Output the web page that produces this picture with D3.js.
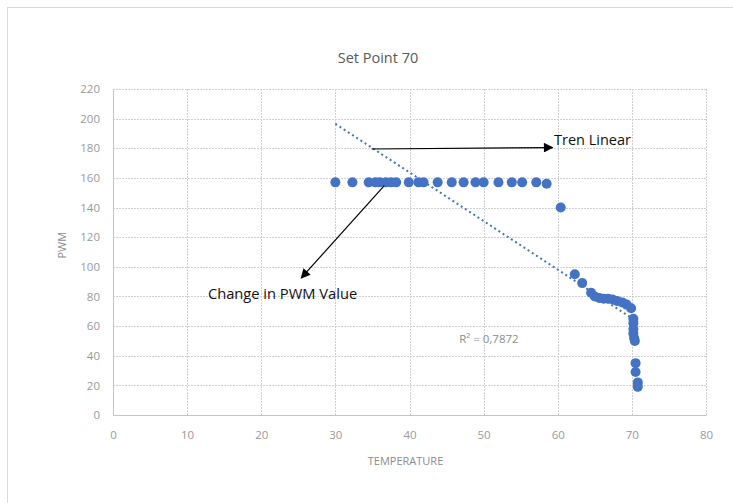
<!DOCTYPE html>
<html>
<head>
<meta charset="utf-8">
<script src="https://cdn.jsdelivr.net/npm/d3@7"></script>
<style>
  body { margin: 0; background: #fff; }
  text { font-family: "Open Sans", sans-serif; }
</style>
</head>
<body>
<div id="chart-area"></div>
<script>
// data
const temperature = [30, 32.3, 34.5, 35.4, 36.0, 36.8, 37.5, 38.2, 39.9, 41.2, 41.9, 43.8, 45.7, 47.3, 48.9,
  50.0, 52.0, 53.8, 55.2, 57.1, 58.5, 60.4, 62.3, 63.3, 64.5, 65.0, 65.6, 66.2, 66.8, 67.4, 68.0, 68.7,
  69.3, 69.9, 70.2, 70.2, 70.2, 70.2, 70.3, 70.4, 70.5, 70.5, 70.8, 70.8];
const pwm = [157, 157, 157, 157, 157, 157, 157, 157, 157, 157, 157, 157, 157, 157, 157,
  157, 157, 157, 157, 157, 156, 140, 95, 89, 82.5, 80, 79, 78.5, 78.5, 78, 77, 76,
  74.5, 72, 65, 62, 58, 55, 52, 50, 35, 29, 22, 19];

// linear trendline ends (as drawn)
const trendX = [30, 70.8];
const trendY = [196.5, 62.7];

const xTicks = [0, 10, 20, 30, 40, 50, 60, 70, 80];
const yTicks = [0, 20, 40, 60, 80, 100, 120, 140, 160, 180, 200, 220];

// annotation arrows in data units: [x1, y1, x2, y2]
const trenArrow = [34.9, 179.5, 59.3, 180.5];
const changeArrow = [36.6, 154.8, 25.4, 92.5];

const MARGIN = { LEFT: 113, RIGHT: 27, TOP: 89, BOTTOM: 88 };
const WIDTH = 733 - MARGIN.LEFT - MARGIN.RIGHT;
const HEIGHT = 503 - MARGIN.TOP - MARGIN.BOTTOM;

const svg = d3.select("#chart-area").append("svg")
  .attr("width", 733)
  .attr("height", 503);

// chart border
svg.append("rect")
  .attr("x", 7.5).attr("y", 7.5)
  .attr("width", 760).attr("height", 520)
  .attr("fill", "none")
  .attr("stroke", "#d9d9d9");

svg.append("defs").append("marker")
  .attr("id", "arrow")
  .attr("viewBox", "0 0 10 10")
  .attr("refX", 9).attr("refY", 5)
  .attr("markerWidth", 9).attr("markerHeight", 8)
  .attr("orient", "auto")
  .append("path")
  .attr("d", "M0,0 L10,5 L0,10 z")
  .attr("fill", "#000");

const g = svg.append("g")
  .attr("transform", `translate(${MARGIN.LEFT}, ${MARGIN.TOP})`);

const x = d3.scaleLinear().domain([0, 80]).range([0, WIDTH]);
const y = d3.scaleLinear().domain([0, 220]).range([HEIGHT, 0]);

// gridlines
g.append("g").selectAll("line")
  .data(yTicks.filter(d => d > 0))
  .join("line")
  .attr("x1", 0).attr("x2", WIDTH)
  .attr("y1", d => Math.round(y(d)) + 0.5).attr("y2", d => Math.round(y(d)) + 0.5)
  .attr("stroke", "#d0d0d0")
  .attr("stroke-dasharray", "2,1");
g.append("g").selectAll("line")
  .data(xTicks.filter(d => d > 0))
  .join("line")
  .attr("x1", d => Math.round(x(d)) + 0.5).attr("x2", d => Math.round(x(d)) + 0.5)
  .attr("y1", 0).attr("y2", HEIGHT)
  .attr("stroke", "#d0d0d0")
  .attr("stroke-dasharray", "2,1");

// axes
const xAxisCall = d3.axisBottom(x).tickValues(xTicks).tickSize(0).tickPadding(16);
const yAxisCall = d3.axisLeft(y).tickValues(yTicks).tickSize(0).tickPadding(13);

const xAxis = g.append("g")
  .attr("transform", `translate(0, ${HEIGHT})`)
  .call(xAxisCall);
const yAxis = g.append("g").call(yAxisCall);

[xAxis, yAxis].forEach(a => {
  a.select(".domain").attr("stroke", "#bfc7bf");
  a.selectAll("text")
    .attr("fill", "#999")
    .attr("font-size", "11.5px")
    .style("font-family", "'Open Sans', sans-serif");
});

// title and axis labels
svg.append("text")
  .attr("x", 378).attr("y", 63)
  .attr("text-anchor", "middle")
  .attr("font-size", "14.5px")
  .attr("fill", "#595959")
  .text("Set Point 70");

g.append("text")
  .attr("x", WIDTH / 2 - 4)
  .attr("y", HEIGHT + 50)
  .attr("text-anchor", "middle")
  .attr("font-size", "11px")
  .attr("fill", "#8c8c8c")
  .text("TEMPERATURE");

g.append("text")
  .attr("transform", "rotate(-90)")
  .attr("x", -(y(120) + 8))
  .attr("y", -47)
  .attr("text-anchor", "middle")
  .attr("font-size", "11px")
  .attr("fill", "#8c8c8c")
  .text("PWM");

// trendline
g.append("line")
  .attr("x1", x(trendX[0])).attr("y1", y(trendY[0]))
  .attr("x2", x(trendX[1])).attr("y2", y(trendY[1]))
  .attr("stroke", "#4472c4")
  .attr("stroke-width", 2)
  .attr("stroke-dasharray", "2,3");

// points
g.append("g").selectAll("circle")
  .data(temperature.map((t, i) => ({ t, p: pwm[i] })))
  .join("circle")
  .attr("cx", d => x(d.t))
  .attr("cy", d => y(d.p))
  .attr("r", 5)
  .attr("fill", "#4472c4");

// R squared
g.append("text")
  .attr("x", x(46.7)).attr("y", y(48.5))
  .attr("font-size", "11.5px")
  .attr("fill", "#8c8c8c")
  .text("R² = 0,7872");

// annotations
[trenArrow, changeArrow].forEach(a => {
  g.append("line")
    .attr("x1", x(a[0])).attr("y1", y(a[1]))
    .attr("x2", x(a[2])).attr("y2", y(a[3]))
    .attr("stroke", "#000")
    .attr("stroke-width", 1.2)
    .attr("marker-end", "url(#arrow)");
});

g.append("text")
  .attr("x", x(59.5)).attr("y", y(182))
  .attr("font-size", "14.5px")
  .attr("fill", "#111")
  .text("Tren Linear");

g.append("text")
  .attr("x", x(12.8)).attr("y", y(78))
  .attr("font-size", "14.7px")
  .attr("fill", "#111")
  .text("Change in PWM Value");
</script>
</body>
</html>
